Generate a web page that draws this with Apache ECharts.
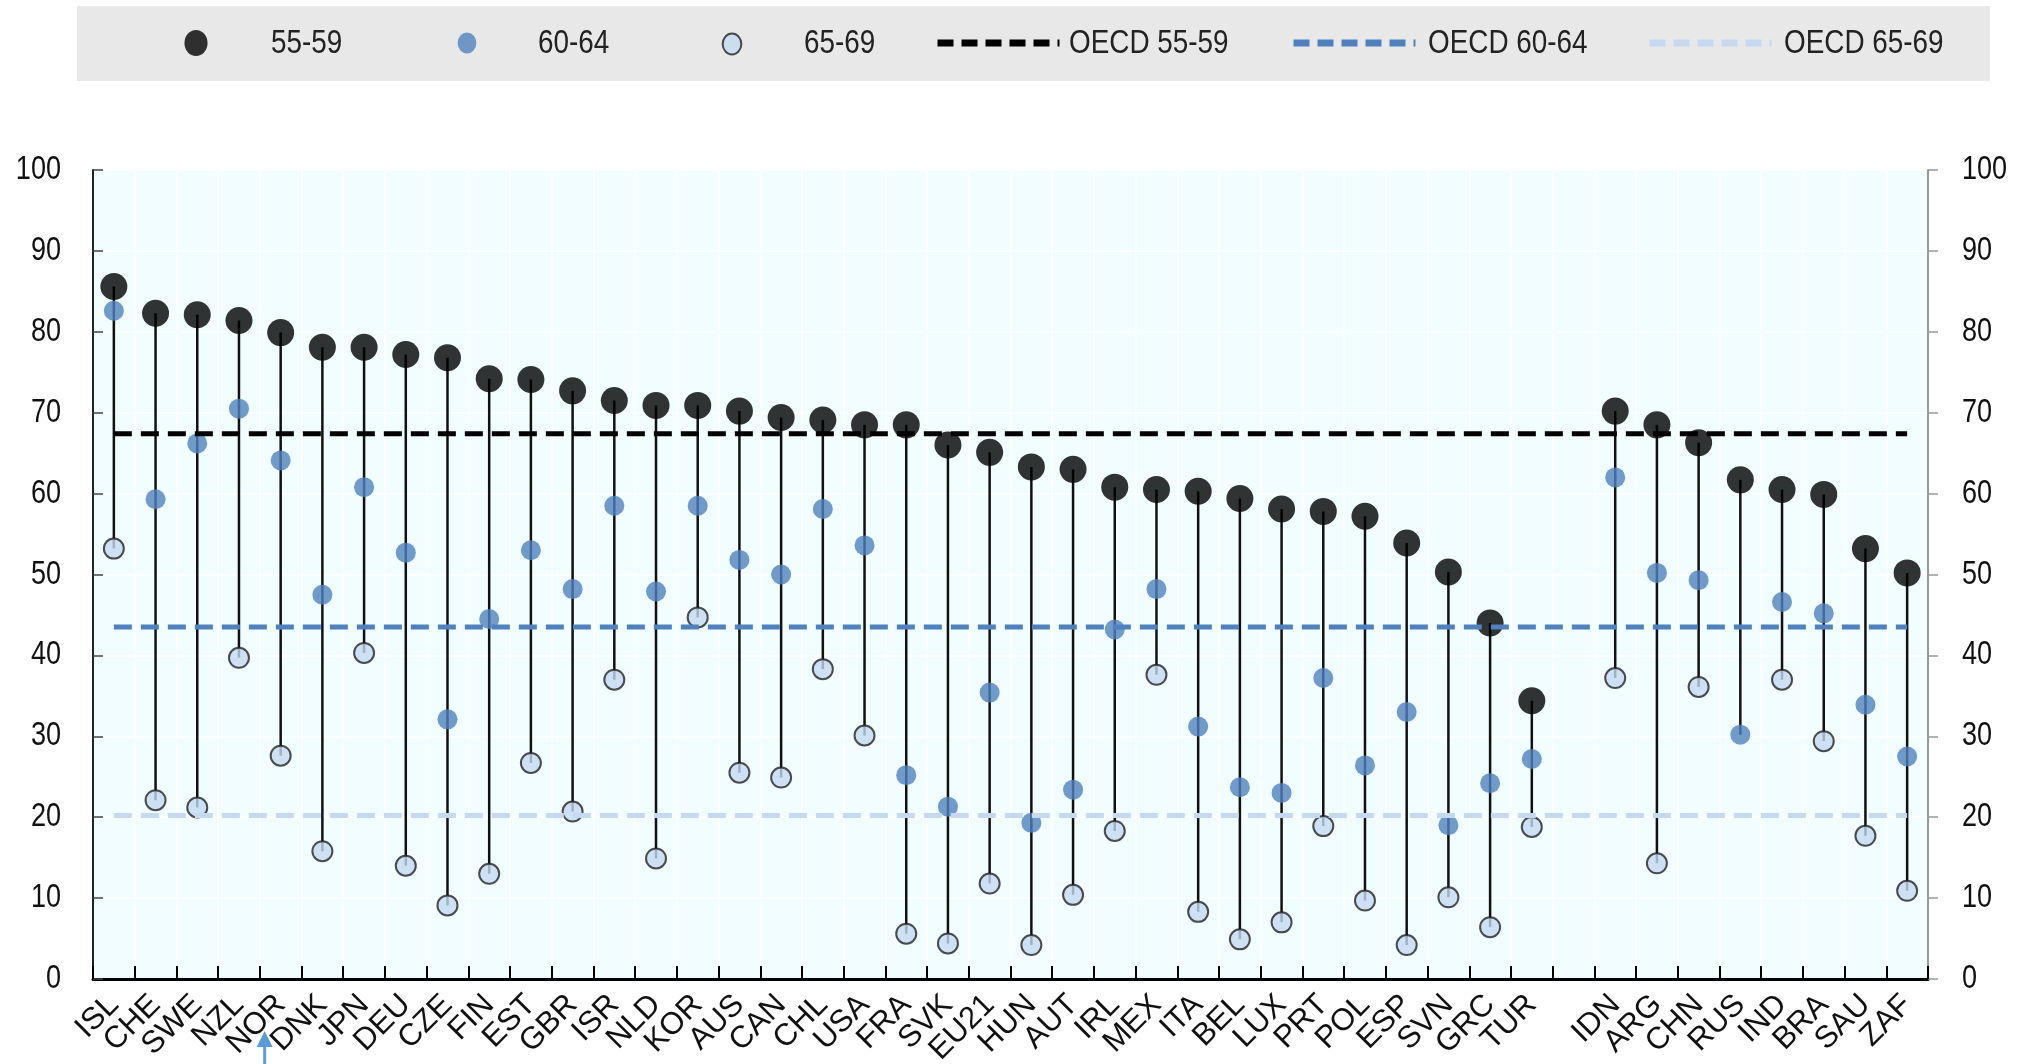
<!DOCTYPE html>
<html>
<head>
<meta charset="utf-8">
<script src="https://cdn.jsdelivr.net/npm/echarts@6/dist/echarts.min.js"></script>
<style>
html,body{margin:0;padding:0;background:#fff;}
#c{width:2020px;height:1064px;}
</style>
</head>
<body>
<div id="c"></div>
<script>
const countries = ['ISL','CHE','SWE','NZL','NOR','DNK','JPN','DEU','CZE','FIN','EST','GBR','ISR','NLD','KOR','AUS','CAN','CHL','USA','FRA','SVK','EU21','HUN','AUT','IRL','MEX','ITA','BEL','LUX','PRT','POL','ESP','SVN','GRC','TUR','','IDN','ARG','CHN','RUS','IND','BRA','SAU','ZAF'];
const age5559 = [85.6,82.3,82.1,81.4,79.9,78.1,78.1,77.2,76.8,74.2,74.1,72.7,71.5,70.9,70.9,70.2,69.4,69.1,68.5,68.5,66.0,65.1,63.3,63.0,60.8,60.5,60.3,59.4,58.1,57.8,57.2,53.9,50.3,44.0,34.4,null,70.2,68.5,66.3,61.7,60.5,59.9,53.2,50.2];
const age6064 = [82.6,59.3,66.2,70.5,64.1,47.5,60.8,52.7,32.1,44.5,53.0,48.2,58.5,47.9,58.5,51.8,50.0,58.1,53.6,25.2,21.3,35.4,19.3,23.4,43.2,48.2,31.2,23.7,23.0,37.2,26.4,33.0,19.0,24.2,27.2,null,62.0,50.2,49.3,30.2,46.6,45.2,33.9,27.5];
const age6569 = [53.2,22.1,21.2,39.7,27.6,15.8,40.3,14.0,9.1,13.0,26.7,20.7,37.0,14.9,44.7,25.5,24.9,38.3,30.1,5.6,4.4,11.8,4.2,10.4,18.3,37.6,8.3,4.9,7.0,18.9,9.7,4.2,10.1,6.4,18.8,null,37.2,14.3,36.1,null,37.0,29.4,17.7,10.9];
const oecd5559 = 67.4;
const oecd6064 = 43.5;
const oecd6569 = 20.2;
const yTicks = [0,10,20,30,40,50,60,70,80,90,100];
const legendScatter = ['55-59', '60-64', '65-69'];
const legendLines = ['OECD 55-59', 'OECD 60-64', 'OECD 65-69'];

const regular = "'Liberation Sans',Arial,sans-serif";
const NARROW = 0.82; // horizontal squeeze to mimic a narrow typeface

const ranges = [];
countries.forEach((c, i) => {
  if (age5559[i] == null) return;
  const vals = [age5559[i], age6064[i], age6569[i]].filter(v => v != null);
  ranges.push([i, Math.max(...vals), Math.min(...vals)]);
});
const firstC = countries[0], lastC = countries[countries.length - 1];

const ellipseIcon = 'path://M0,9a8,9 0 1,0 16,0a8,9 0 1,0 -16,0z';
const scatterLeft = [122, 393, 658];
const scatterIconH = [26, 21, 21];
const lineLeft = [929, 1285, 1641];
const legendTextX = [271, 538, 804, 1069, 1428, 1784];
const legends = [];
legendScatter.forEach((n, k) => legends.push({
  data: [{name: n, icon: ellipseIcon}], left: scatterLeft[k], top: 38 - scatterIconH[k] / 2,
  itemWidth: 138, itemHeight: scatterIconH[k],
  formatter: () => '',
  textStyle: {fontSize: 12}
}));
legendLines.forEach((n, k) => legends.push({
  data: [n], left: lineLeft[k], top: 28,
  itemWidth: 122, itemHeight: 20,
  itemStyle: {opacity: 0},
  lineStyle: {width: 7, type: [16, 8]},
  formatter: () => '',
  textStyle: {fontSize: 12}
}));

const chart = echarts.init(document.getElementById('c'), null, {renderer: 'canvas'});
const option = {
  animation: false,
  backgroundColor: '#ffffff',
  legend: legends,
  grid: {
    left: 93, right: 92, top: 170, bottom: 85,
    outerBoundsMode: 'none',
    show: true, backgroundColor: '#f1fdfe', borderWidth: 0
  },
  xAxis: {
    type: 'category',
    data: countries,
    boundaryGap: true,
    axisLine: {show: true, lineStyle: {color: '#000', width: 3}},
    axisTick: {show: true, inside: true, length: 13, lineStyle: {color: '#000', width: 2}},
    axisLabel: {rotate: 45, interval: 0, margin: 21, fontFamily: regular, fontSize: 31, color: '#111'},
    splitLine: {show: true, interval: 0, lineStyle: {color: '#ffffff', width: 1.5}}
  },
  yAxis: [{
    type: 'value', min: 0, max: 100, interval: 10, position: 'left',
    axisLine: {show: true, lineStyle: {color: '#222', width: 2}},
    axisTick: {show: true, inside: true, length: 10, lineStyle: {color: '#444', width: 1.5}},
    axisLabel: {show: false},
    splitLine: {show: true, lineStyle: {color: '#ffffff', width: 1.5}}
  }, {
    type: 'value', min: 0, max: 100, interval: 10, position: 'right',
    axisLine: {show: true, lineStyle: {color: '#999', width: 2}},
    axisTick: {show: true, inside: false, length: 10, lineStyle: {color: '#999', width: 1.5}},
    axisLabel: {show: false},
    splitLine: {show: false}
  }],
  series: [{
    type: 'custom',
    name: 'range',
    z: 1,
    data: ranges,
    encode: {x: 0, y: [1, 2]},
    renderItem: function (params, api) {
      const a = api.coord([api.value(0), api.value(1)]);
      const b = api.coord([api.value(0), api.value(2)]);
      return {type: 'line', shape: {x1: a[0], y1: a[1], x2: b[0], y2: b[1]},
        style: {stroke: '#111', lineWidth: 2.5}};
    },
    silent: true
  }, {
    type: 'scatter', name: '55-59', z: 2,
    data: age5559, symbol: 'circle', symbolSize: 27,
    itemStyle: {color: '#000000'}
  }, {
    type: 'scatter', name: '60-64', z: 3,
    data: age6064, symbol: 'circle', symbolSize: 20,
    itemStyle: {color: '#4f81bd'}
  }, {
    type: 'scatter', name: '65-69', z: 4,
    data: age6569, symbol: 'circle', symbolSize: 20,
    itemStyle: {color: '#c6d9f1', borderColor: '#222', borderWidth: 2}
  }, {
    type: 'line', name: 'OECD 55-59', z: 5,
    data: [[firstC, oecd5559], [lastC, oecd5559]],
    symbol: 'none',
    lineStyle: {color: '#000000', width: 5, type: [18, 9]},
    itemStyle: {color: '#000000'}
  }, {
    type: 'line', name: 'OECD 60-64', z: 5,
    data: [[firstC, oecd6064], [lastC, oecd6064]],
    symbol: 'none',
    lineStyle: {color: '#4f81bd', width: 5, type: [18, 9]},
    itemStyle: {color: '#4f81bd'}
  }, {
    type: 'line', name: 'OECD 65-69', z: 5,
    data: [[firstC, oecd6569], [lastC, oecd6569]],
    symbol: 'none',
    lineStyle: {color: '#c6d9f1', width: 5, type: [18, 9]},
    itemStyle: {color: '#c6d9f1'}
  }]
};
chart.setOption(option);

// texts in a narrow face, positioned through the axes' own scales
const g = [{
  type: 'rect', z: -10, silent: true,
  shape: {x: 77, y: 6, width: 1913, height: 75},
  style: {fill: '#e8e8e8'}
}];
const narrowText = (txt, x, y, align) => ({
  type: 'text', silent: true, z: 20, x: x, y: y, scaleX: NARROW,
  style: {text: txt, x: 0, y: 0, align: align, verticalAlign: 'middle',
    font: '33px "Liberation Sans", Arial, sans-serif', fill: '#111'}
});
yTicks.forEach(v => {
  const py = chart.convertToPixel({yAxisIndex: 0}, v);
  g.push(narrowText(String(v), 61, py, 'right'));
  g.push(narrowText(String(v), 1962, py, 'left'));
});
legendScatter.concat(legendLines).forEach((n, k) => {
  const t = narrowText(n, legendTextX[k], 44, 'left');
  t.style.font = '34px "Liberation Sans", Arial, sans-serif';
  t.style.fill = '#222';
  g.push(t);
});
const px = chart.convertToPixel({xAxisIndex: 0}, 'NOR');
const ax = px - 16;
g.push({
  type: 'group', silent: true, z: 10,
  children: [{
    type: 'line', shape: {x1: ax, y1: 1044, x2: ax, y2: 1064},
    style: {stroke: '#5b9bd5', lineWidth: 3}
  }, {
    type: 'polygon', shape: {points: [[ax, 1031], [ax - 8, 1047], [ax + 8, 1047]]},
    style: {fill: '#5b9bd5'}
  }]
});
chart.setOption({graphic: g});
</script>
</body>
</html>
